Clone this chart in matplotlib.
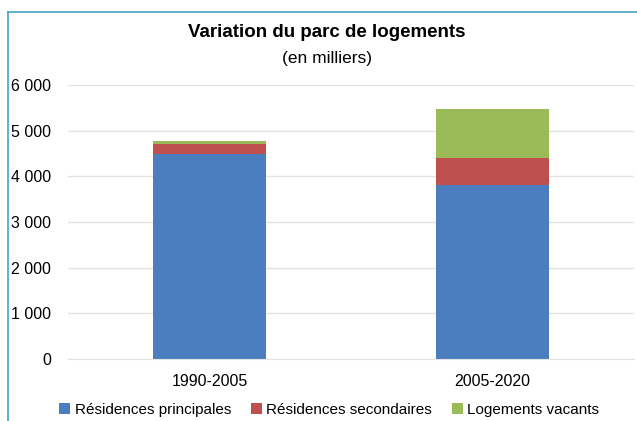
import matplotlib as mpl
mpl.use('Agg')
import matplotlib.pyplot as plt
from matplotlib.lines import Line2D

periodes = ['1990-2005', '2005-2020']
principales = [4480, 3820]
secondaires = [220, 580]
vacants = [80, 1070]

plt.rcParams['font.family'] = ['Liberation Sans', 'DejaVu Sans']

fig = plt.figure(figsize=(6.37, 4.21), dpi=100)
ax = fig.add_axes([0.1068, 0.1473, 0.8885, 0.6507])

x = range(len(periodes))
w = 0.4
ax.bar(x, principales, w, color='#4a7ebf', label='Résidences principales')
ax.bar(x, secondaires, w, bottom=principales, color='#c0504d', label='Résidences secondaires')
bas = [a + b for a, b in zip(principales, secondaires)]
ax.bar(x, vacants, w, bottom=bas, color='#9bbb59', label='Logements vacants')

ax.set_xlim(-0.5, 1.5)
ax.set_ylim(0, 6000)
ax.set_yticks(range(0, 6001, 1000))
ax.set_yticklabels(['{:,}'.format(v).replace(',', ' ') for v in range(0, 6001, 1000)])
ax.set_xticks(list(x))
ax.set_xticklabels(periodes)
ax.tick_params(axis='y', length=0, pad=12, labelsize=11.5)
ax.tick_params(axis='x', length=0, pad=11, labelsize=11.5)
ax.yaxis.grid(True, color='#e3e3e3', linewidth=1)
ax.set_axisbelow(True)
for s in ax.spines.values():
    s.set_visible(False)
ax.spines['bottom'].set_visible(True)
ax.spines['bottom'].set_color('#e3e3e3')

fig.text(0.513, 0.922, 'Variation du parc de logements', ha='center', va='center',
         fontsize=13.5, fontweight='bold')
fig.text(0.513, 0.860, '(en milliers)', ha='center', va='center', fontsize=12.5)

ax.legend(loc='center', bbox_to_anchor=(0.517, 0.027), bbox_transform=fig.transFigure,
          ncol=3, frameon=False, fontsize=11, handlelength=0.7, handleheight=0.7,
          handletextpad=0.3, columnspacing=1.3)

# cadre du graphique
fig.add_artist(Line2D([8 / 637, 1], [1 - 12 / 421, 1 - 12 / 421], color='#46a3c9', lw=1.2))
fig.add_artist(Line2D([8 / 637, 8 / 637], [0, 1 - 12 / 421], color='#46a3c9', lw=1.2))

fig.savefig('out.png', dpi=100)
